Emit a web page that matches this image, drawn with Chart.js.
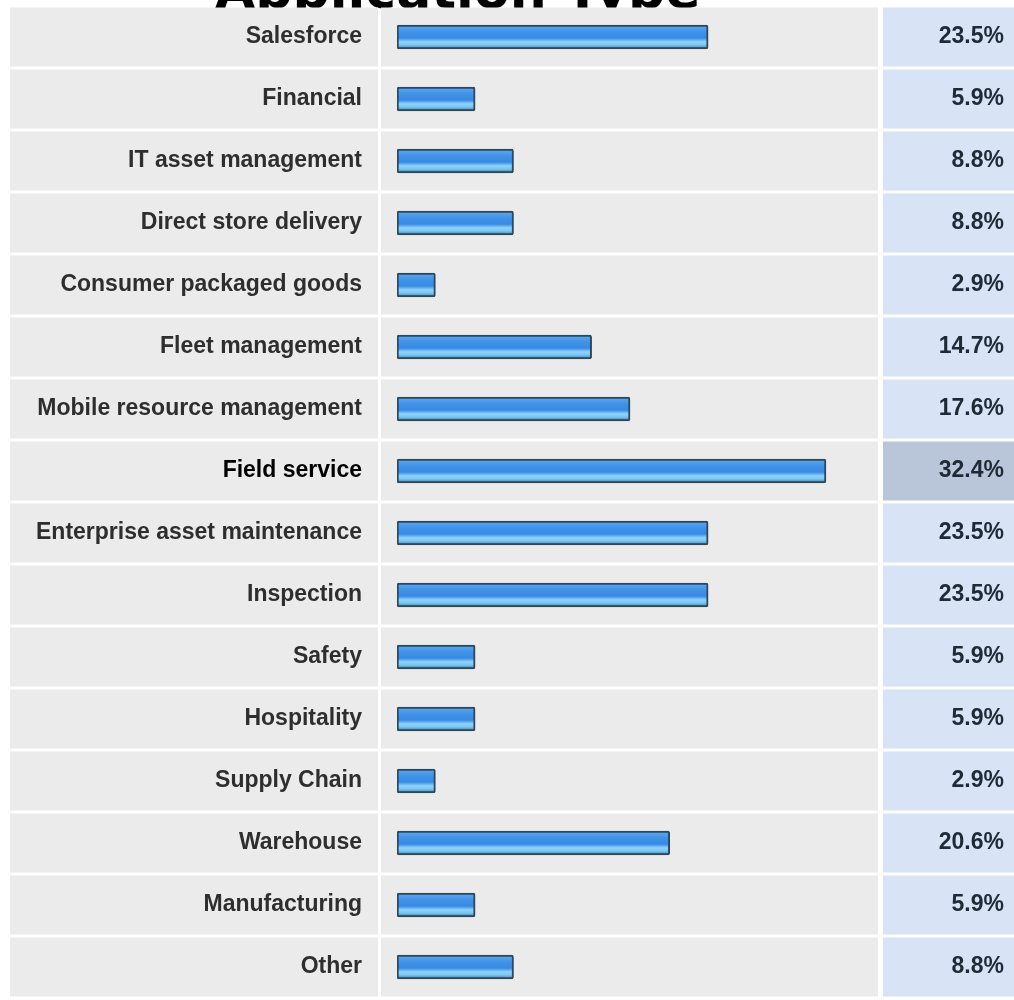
<!DOCTYPE html>
<html>
<head>
<meta charset="utf-8">
<title>Application Type</title>
<script src="https://cdn.jsdelivr.net/npm/chart.js@4.4.1/dist/chart.umd.min.js"></script>
<style>
  html, body { margin: 0; padding: 0; background: #fff; }
</style>
</head>
<body>
<canvas id="chartApp" width="1014" height="1000"></canvas>
<script>
// Data
var titleText = 'Application Type';
var categories = [
  'Salesforce', 'Financial', 'IT asset management', 'Direct store delivery',
  'Consumer packaged goods', 'Fleet management', 'Mobile resource management',
  'Field service', 'Enterprise asset maintenance', 'Inspection', 'Safety',
  'Hospitality', 'Supply Chain', 'Warehouse', 'Manufacturing', 'Other'
];
var percents = [23.5, 5.9, 8.8, 8.8, 2.9, 14.7, 17.6, 32.4, 23.5, 23.5, 5.9, 5.9, 2.9, 20.6, 5.9, 8.8];
var percentLabels = percents.map(function (v) { return v.toFixed(1) + '%'; });
var highlightIndex = 7; // Field service is highlighted

// Glossy blue fill, one gradient per bar row
function barFill(ctx) {
  var chart = ctx.chart;
  if (!chart.chartArea || ctx.type !== 'data') return '#3d8fe6';
  var yc = chart.scales.y.getPixelForValue(ctx.dataIndex);
  var g = chart.ctx.createLinearGradient(0, yc - 11, 0, yc + 11);
  g.addColorStop(0, '#5aa6ee');
  g.addColorStop(0.3, '#3f91e8');
  g.addColorStop(0.55, '#3989e2');
  g.addColorStop(0.72, '#8ed4ff');
  g.addColorStop(0.86, '#7ac6f4');
  g.addColorStop(1, '#4a8cb4');
  return g;
}

// no extra top/bottom padding on the row axes
function fitAxis(w) {
  return function (s) {
    s.width = w;
    s.paddingTop = 0;
    s.paddingBottom = 0;
  };
}

// Table-like row backgrounds + cropped title
var tableBg = {
  id: 'tableBg',
  beforeDraw: function (chart) {
    var c = chart.ctx;
    var ys = chart.scales.y;
    var band = ys.height / categories.length;
    c.save();
    c.fillStyle = '#ffffff';
    c.fillRect(0, 0, chart.width, chart.height);

    c.fillStyle = '#000000';
    c.font = 'bold 52px "DejaVu Sans"';
    c.textAlign = 'left';
    c.textBaseline = 'alphabetic';
    c.fillText(titleText, 215, 8);

    for (var i = 0; i < categories.length; i++) {
      var yc = ys.getPixelForValue(i);
      var top = yc - band / 2 + 1.5;
      var h = band - 3;
      c.fillStyle = '#ebebeb';
      c.fillRect(10, top, 368, h);
      c.fillRect(381, top, 497, h);
      c.fillStyle = i === highlightIndex ? '#b9c5d8' : '#d8e3f5';
      c.fillRect(883, top, chart.width - 883, h);
    }
    c.restore();
  }
};

var labelFont = { family: '"Liberation Sans", Arial, sans-serif', size: 23, weight: 'bold' };

new Chart(document.getElementById('chartApp'), {
  type: 'bar',
  data: {
    labels: categories,
    datasets: [{
      label: titleText,
      data: percents,
      backgroundColor: barFill,
      borderColor: '#2d4658',
      borderWidth: 2,
      borderRadius: 2,
      borderSkipped: false,
      barThickness: 24
    }]
  },
  options: {
    indexAxis: 'y',
    responsive: false,
    animation: false,
    layout: { padding: { left: 10, right: 10, top: 6, bottom: 2 } },
    plugins: {
      legend: { display: false },
      tooltip: { enabled: false }
    },
    scales: {
      x: { display: false, min: 0, max: 36.33 },
      y: {
        position: 'left',
        grid: { display: false, drawTicks: false },
        border: { display: false },
        ticks: {
          autoSkip: false,
          padding: 35,
          color: function (ctx) { return ctx.index === highlightIndex ? '#000' : '#2e2e2e'; },
          font: labelFont
        },
        afterFit: fitAxis(387)
      },
      y2: {
        type: 'category',
        labels: percentLabels,
        position: 'right',
        offset: true,
        grid: { display: false, drawTicks: false },
        border: { display: false },
        ticks: {
          autoSkip: false,
          crossAlign: 'far',
          padding: 0,
          color: '#1f2a36',
          font: labelFont
        },
        afterFit: fitAxis(126)
      }
    }
  },
  plugins: [tableBg]
});
</script>
</body>
</html>
